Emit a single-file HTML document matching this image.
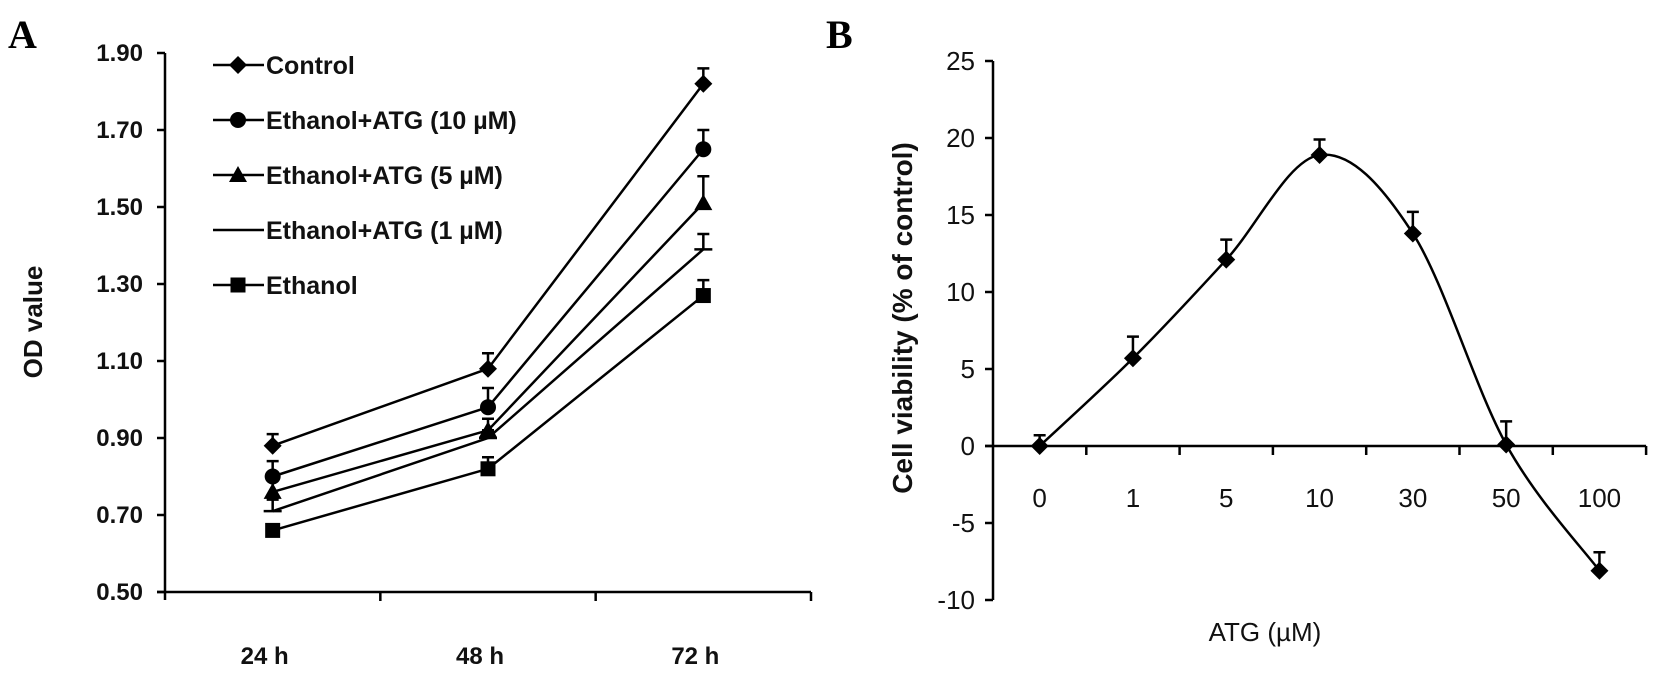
<!DOCTYPE html>
<html><head><meta charset="utf-8"><style>
html,body{margin:0;padding:0;background:#fff;}
svg{display:block;font-family:"Liberation Sans",sans-serif;}
</style></head><body>
<svg id="chart" width="1654" height="678" viewBox="0 0 1654 678" xmlns="http://www.w3.org/2000/svg">
<text x="8" y="48" font-family="Liberation Serif,serif" font-weight="bold" font-size="40">A</text>
<text x="826" y="48" font-family="Liberation Serif,serif" font-weight="bold" font-size="40">B</text>
<g id="panelA"></g>
<g id="panelB"></g>
</svg>
<script>
// Panel A data
const aCategories = ["24 h", "48 h", "72 h"];
const aTicks = ["0.50","0.70","0.90","1.10","1.30","1.50","1.70","1.90"];
const aNames = ["Control","Ethanol+ATG (10 \u00b5M)","Ethanol+ATG (5 \u00b5M)","Ethanol+ATG (1 \u00b5M)","Ethanol"];
const aMarkers = ["diamond","circle","triangle","none","square"];
const aControl = [0.88, 1.08, 1.82];
const aAtg10 = [0.80, 0.98, 1.65];
const aAtg5 = [0.76, 0.92, 1.51];
const aAtg1 = [0.71, 0.90, 1.39];
const aEthanol = [0.66, 0.82, 1.27];
const aControlErr = [0.03, 0.04, 0.04];
const aAtg10Err = [0.04, 0.05, 0.05];
const aAtg5Err = [0.03, 0.03, 0.07];
const aAtg1Err = [0.03, 0.02, 0.04];
const aEthanolErr = [0.01, 0.03, 0.04];
// Panel B data
const bCategories = ["0","1","5","10","30","50","100"];
const bTicks = [-10,-5,0,5,10,15,20,25];
const bValues = [0, 5.7, 12.1, 18.9, 13.8, 0.1, -8.1];
const bErr = [0.7, 1.4, 1.3, 1.0, 1.4, 1.5, 1.2];

const NS="http://www.w3.org/2000/svg";
function mk(parent,tag,attrs,text){const e=document.createElementNS(NS,tag);for(const k in attrs)e.setAttribute(k,attrs[k]);if(text!==undefined)e.textContent=text;parent.appendChild(e);return e;}

// ---- Panel A ----
const gA=document.getElementById('panelA');
const aX0=165,aX1=811,aYmin=0.5,aYmax=1.9,aPy0=592,aPy1=53;
const ayS=v=>aPy0-(v-aYmin)/(aYmax-aYmin)*(aPy0-aPy1);
const aBand=(aX1-aX0)/aCategories.length;
const axS=i=>aX0+aBand*(i+0.5);
let e;
e=mk(gA,'line',{x1:aX0,y1:aPy1,x2:aX0,y2:aPy0+8,stroke:'#000','stroke-width':2.5});

e=mk(gA,'line',{x1:aX0-8,y1:aPy0,x2:aX1,y2:aPy0,stroke:'#000','stroke-width':2.5});

aTicks.forEach(t=>{const y=ayS(parseFloat(t));
 e=mk(gA,'line',{x1:aX0-8,y1:y,x2:aX0,y2:y,stroke:'#000','stroke-width':2.5});
 
 e=mk(gA,'text',{x:aX0-22,y:y+8,'text-anchor':'end','font-size':24,'font-weight':'bold',fill:'#111'},t);
 });
for(let i=1;i<=aCategories.length;i++){const x=aX0+aBand*i;
 e=mk(gA,'line',{x1:x,y1:aPy0,x2:x,y2:aPy0+9,stroke:'#000','stroke-width':2.5});
 }
aCategories.forEach((c,i)=>{e=mk(gA,'text',{x:axS(i)-8,y:664,'text-anchor':'middle','font-size':24,'font-weight':'bold',fill:'#111'},c);
 });
e=mk(gA,'text',{x:0,y:0,transform:'translate(42,322) rotate(-90)','text-anchor':'middle','font-size':26,'font-weight':'bold',fill:'#111'},'OD value');


function marker(g,type,x,y){
 if(type==='diamond')return mk(g,'polygon',{points:`${x},${y-9} ${x+9},${y} ${x},${y+9} ${x-9},${y}`,fill:'#000'});
 if(type==='circle')return mk(g,'circle',{cx:x,cy:y,r:8,fill:'#000'});
 if(type==='triangle')return mk(g,'polygon',{points:`${x},${y-9} ${x+9},${y+7} ${x-9},${y+7}`,fill:'#000'});
 if(type==='square')return mk(g,'rect',{x:x-7.5,y:y-7.5,width:15,height:15,fill:'#000'});
 return null;}
function errBar(g,x,y0,y1,name){
 e=mk(g,'path',{d:`M${x},${y0}V${y1}M${x-6},${y1}H${x+6}`,stroke:'#000','stroke-width':2.5,fill:'none'});
 }
const aSeries=[aControl,aAtg10,aAtg5,aAtg1,aEthanol];
const aErrs=[aControlErr,aAtg10Err,aAtg5Err,aAtg1Err,aEthanolErr];
aSeries.forEach((vals,s)=>{
 const pts=vals.map((v,i)=>`${axS(i)},${ayS(v)}`).join(' ');
 e=mk(gA,'polyline',{points:pts,fill:'none',stroke:'#000','stroke-width':2.5});
 
 vals.forEach((v,i)=>{
  errBar(gA,axS(i),ayS(v),ayS(v+aErrs[s][i]),'a-error-bar');
  if(aMarkers[s]==='none'){e=mk(gA,'line',{x1:axS(i)-9,y1:ayS(v),x2:axS(i)+9,y2:ayS(v),stroke:'#000','stroke-width':2.5});}
  else e=marker(gA,aMarkers[s],axS(i),ayS(v));
  });
 const ly=65+s*55;
 e=mk(gA,'line',{x1:213,y1:ly,x2:264,y2:ly,stroke:'#000','stroke-width':2.5});
 
 if(aMarkers[s]!=='none'){e=marker(gA,aMarkers[s],238,ly);}
 e=mk(gA,'text',{x:266,y:ly+9,'font-size':25,'font-weight':'bold',fill:'#111'},aNames[s]);
 
});

// ---- Panel B ----
const gB=document.getElementById('panelB');
const bX0=993,bBand=93.3,bPy0=446,bUnit=15.4;
const bxS=i=>bX0+bBand*(i+0.5);
const byS=v=>bPy0-v*bUnit;
const bX1=bX0+bBand*bCategories.length;
e=mk(gB,'line',{x1:bX0,y1:byS(25),x2:bX0,y2:byS(-10),stroke:'#000','stroke-width':2.5});

e=mk(gB,'line',{x1:bX0-8,y1:byS(0),x2:bX1,y2:byS(0),stroke:'#000','stroke-width':2.5});

bTicks.forEach(t=>{const y=byS(t);
 e=mk(gB,'line',{x1:bX0-8,y1:y,x2:bX0,y2:y,stroke:'#000','stroke-width':2.5});
 
 e=mk(gB,'text',{x:bX0-18,y:y+9,'text-anchor':'end','font-size':26,fill:'#111'},String(t));
 });
for(let i=1;i<=bCategories.length;i++){const x=bX0+bBand*i;
 e=mk(gB,'line',{x1:x,y1:byS(0),x2:x,y2:byS(0)+9,stroke:'#000','stroke-width':2.5});
 }
bCategories.forEach((c,i)=>{e=mk(gB,'text',{x:bxS(i),y:507,'text-anchor':'middle','font-size':26,fill:'#111'},c);
 });
e=mk(gB,'text',{x:0,y:0,transform:'translate(912,318) rotate(-90)','text-anchor':'middle','font-size':28,'font-weight':'bold',fill:'#111','xml:space':'preserve'},'Cell viability  (% of control)');

e=mk(gB,'text',{x:1265,y:641,'text-anchor':'middle','font-size':26,fill:'#111'},'ATG (\u00b5M)');

const P=bValues.map((v,i)=>[bxS(i),byS(v)]);
let d=`M${P[0][0]},${P[0][1]}`;
for(let i=0;i<P.length-1;i++){const p0=P[Math.max(i-1,0)],p1=P[i],p2=P[i+1],p3=P[Math.min(i+2,P.length-1)];const t=1/6;
 d+=` C${p1[0]+(p2[0]-p0[0])*t},${p1[1]+(p2[1]-p0[1])*t} ${p2[0]-(p3[0]-p1[0])*t},${p2[1]-(p3[1]-p1[1])*t} ${p2[0]},${p2[1]}`;}
e=mk(gB,'path',{d:d,fill:'none',stroke:'#000','stroke-width':2.5});

bValues.forEach((v,i)=>{errBar(gB,bxS(i),byS(v),byS(v+bErr[i]),'b-error-bar');
 e=marker(gB,'diamond',bxS(i),byS(v));
 });
</script>
</body></html>
